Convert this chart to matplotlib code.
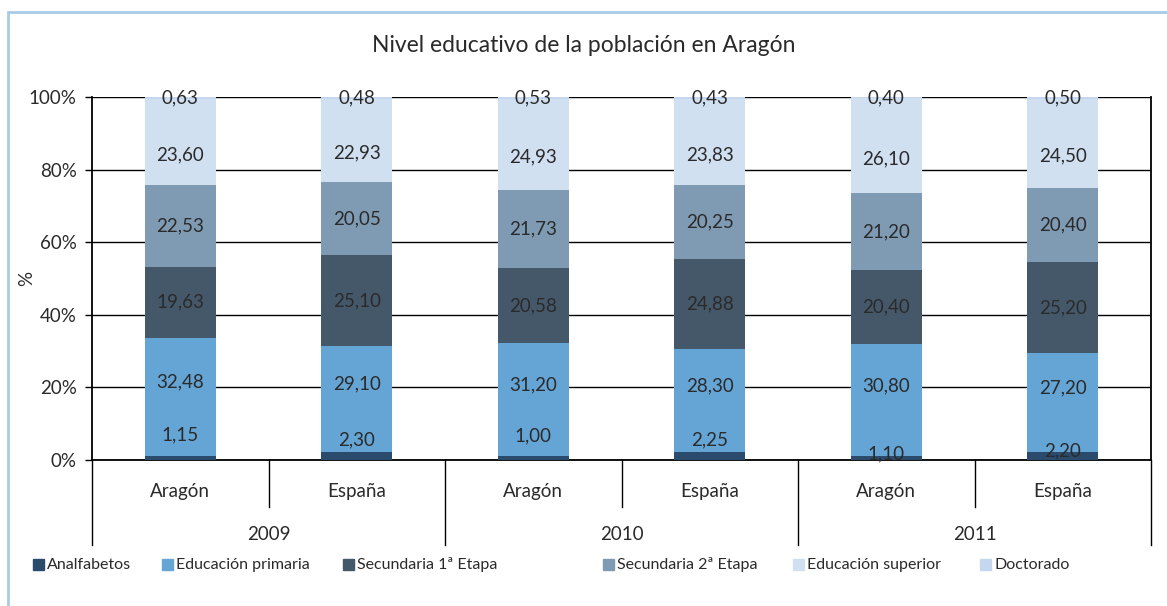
import matplotlib
matplotlib.use("Agg")
import matplotlib.pyplot as plt
from matplotlib.patches import Rectangle
import matplotlib.transforms as mtransforms

# ============================================================
# DATOS
# ============================================================

YEARS = ["2009", "2010", "2011"]
REGIONS = ["Aragón", "España"]

analfabetos = [1.15, 2.30, 1.00, 2.25, 1.10, 2.20]
primaria = [32.48, 29.10, 31.20, 28.30, 30.80, 27.20]
secundaria_1 = [19.63, 25.10, 20.58, 24.88, 20.40, 25.20]
secundaria_2 = [22.53, 20.05, 21.73, 20.25, 21.20, 20.40]
superior = [23.60, 22.93, 24.93, 23.83, 26.10, 24.50]
doctorado = [0.63, 0.48, 0.53, 0.43, 0.40, 0.50]

Y_TICKS = [0, 20, 40, 60, 80, 100]

# ============================================================
# ESTILO
# ============================================================

SERIES = [
    ("Analfabetos", analfabetos, "#2b4b6c"),
    ("Educación primaria", primaria, "#65a5d6"),
    ("Secundaria 1ª Etapa", secundaria_1, "#45586a"),
    ("Secundaria 2ª Etapa", secundaria_2, "#7f9bb3"),
    ("Educación superior", superior, "#d0e0f1"),
    ("Doctorado", doctorado, "#c4d7ee"),
]

# desplazamiento vertical de las etiquetas (en %), como en el original
LABEL_SHIFT = [0, 4, 0, 0, -3.5, 0]
ANALF_LIFT = [5.75, 3.2, 5.6, 3.25, 0.6, 0.3]

LEGEND_X = [33, 162, 343, 603, 793, 980]   # px

TEXT = "#2a2a2a"
FONT = "Lato"
plt.rcParams["font.family"] = [FONT, "DejaVu Sans"]

W, H = 1167, 606
fig = plt.figure(figsize=(W / 100, H / 100), dpi=100)

# marco exterior del gráfico
fig.patches.append(Rectangle((8 / W, -0.1), 1.2, 1 - 12 / H + 0.1,
                             transform=fig.transFigure, fill=False,
                             edgecolor="#a9cbe6", linewidth=2))

left, right, top, bottom = 92, 1151, 97, 460
ax = fig.add_axes([left / W, 1 - bottom / H, (right - left) / W, (bottom - top) / H])

n = len(analfabetos)
x = list(range(n))
base = [0.0] * n
for i, (name, values, color) in enumerate(SERIES):
    ax.bar(x, values, width=0.40, bottom=base, color=color, zorder=3, label=name)
    for j in range(n):
        if i == 0:
            y = values[j] + ANALF_LIFT[j]
        else:
            y = base[j] + values[j] / 2 + LABEL_SHIFT[i]
        ax.text(x[j], y, f"{values[j]:.2f}".replace(".", ","), ha="center",
                va="center", fontsize=13.5, color=TEXT, zorder=5)
    base = [b + v for b, v in zip(base, values)]

ax.set_xlim(-0.5, n - 0.5)
ax.set_ylim(0, 100)
ax.set_yticks(Y_TICKS)
ax.set_yticklabels([f"{t}%" for t in Y_TICKS], fontsize=13.5, color=TEXT)
ax.tick_params(axis="y", length=5, width=1, color="black", pad=6)
ax.set_xticks([])
ax.grid(axis="y", color="black", linewidth=1, zorder=0)
ax.spines["top"].set_visible(False)
for s in ["left", "right", "bottom"]:
    ax.spines[s].set_linewidth(1.3)
ax.set_ylabel("%", fontsize=13.5, color=TEXT)
ax.yaxis.set_label_coords(-(left - 35) / (right - left), 0.5)

# ejes de categorías en dos niveles
trans = mtransforms.blended_transform_factory(ax.transData, ax.transAxes)
h_ax = bottom - top
cat_y = -(491 - bottom) / h_ax
year_y = -(535 - bottom) / h_ax
inner_end = -(507 - bottom) / h_ax
outer_end = -(545 - bottom) / h_ax
for j in range(n):
    ax.text(x[j], cat_y, REGIONS[j % 2], transform=trans, ha="center",
            va="center", fontsize=13.5, color=TEXT)
for k, year in enumerate(YEARS):
    ax.text(2 * k + 0.5, year_y, year, transform=trans, ha="center",
            va="center", fontsize=13.5, color=TEXT)
for j in range(n + 1):
    xs = j - 0.5
    end = outer_end if j % 2 == 0 else inner_end
    ax.plot([xs, xs], [0, end], transform=trans, color="black", linewidth=1,
            clip_on=False)

fig.text(0.5, 1 - 45 / H, "Nivel educativo de la población en Aragón",
         ha="center", va="center", fontsize=16.5, color=TEXT)

# leyenda
ly = 1 - 565 / H
for (name, _, color), lx in zip(SERIES, LEGEND_X):
    fig.patches.append(Rectangle((lx / W, ly - 5 / H), 11 / W, 11 / H,
                                 transform=fig.transFigure, color=color))
    fig.text((lx + 14) / W, ly, name, ha="left", va="center", fontsize=11.5,
             color=TEXT)

fig.savefig("out.png", dpi=100)
